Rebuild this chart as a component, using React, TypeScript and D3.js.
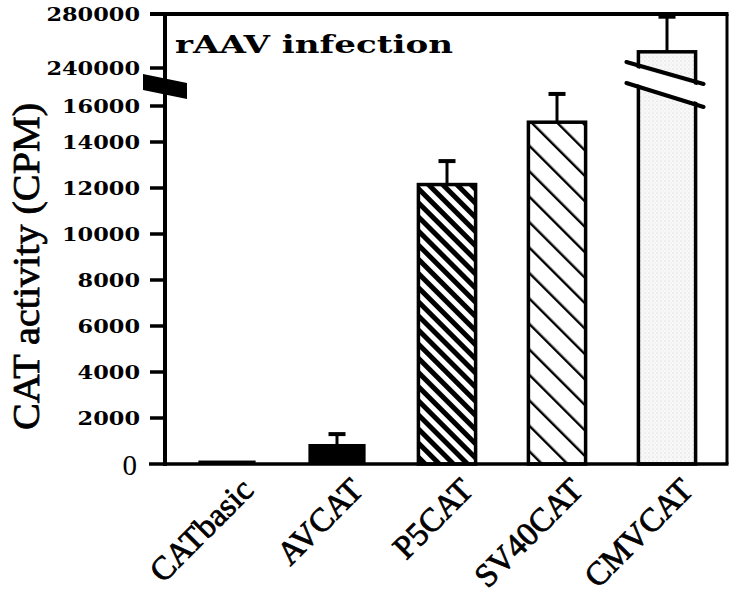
import * as d3 from "d3";

// values (CPM)
const categories = ["CATbasic", "AVCAT", "P5CAT", "SV40CAT", "CMVCAT"];
const values = [150, 870, 12150, 15100, 252000];
const errorTops = [null, 1300, 13170, 16670, 278000];
const lowerTicks = [2000, 4000, 6000, 8000, 10000, 12000, 14000, 16000];
const upperTicks = [240000, 280000];
const barFills = ["#000", "#000", "url(#p5)", "url(#sv40)", "url(#cmv)"];

const W = 742;
const H = 597;
const axisX = 165;
const rightX = 727;
const baseY = 464;
const topY = 14;

const App = () => {
  // broken axis: low segment (compressed above 14000) and high segment
  const yLow = d3
    .scaleLinear()
    .domain([0, 14000, 16000, 17000])
    .range([baseY, 142, 106, 88]);
  const yHigh = d3.scaleLinear().domain([240000, 280000]).range([68, topY]);
  const yOf = (v) => (v >= 200000 ? yHigh(v) : yLow(v));

  const x = d3
    .scaleBand()
    .domain(categories)
    .range([172, 722])
    .paddingInner(0.48)
    .paddingOuter(0.24);

  const m = (yHigh(240000) + yLow(16000)) / 2;
  const tickFont = {
    fontFamily: "'DejaVu Serif', serif",
    fontWeight: "bold",
    fontSize: 19,
  };
  const tickLabel = (t, y) => {
    const s = String(t);
    return (
      <text
        x={140}
        y={y + 6.5}
        textAnchor="end"
        textLength={s.length * 15.6}
        lengthAdjust="spacingAndGlyphs"
        style={tickFont}
      >
        {s}
      </text>
    );
  };

  const cmvX0 = x("CMVCAT");
  const cmvX1 = cmvX0 + x.bandwidth();

  return (
    <svg
      width={W}
      height={H}
      style={{ position: "absolute", left: 0, top: 0, background: "#fff" }}
    >
      <defs>
        <pattern
          id="p5"
          patternUnits="userSpaceOnUse"
          width={10}
          height={10}
          patternTransform="rotate(-45)"
        >
          <rect width={10} height={10} fill="#fff" />
          <rect width={5} height={10} fill="#000" />
        </pattern>
        <pattern
          id="sv40"
          patternUnits="userSpaceOnUse"
          width={18}
          height={18}
          patternTransform="rotate(-45)"
        >
          <rect width={18} height={18} fill="#fff" />
          <rect width={2.4} height={18} fill="#000" />
        </pattern>
        <pattern id="cmv" patternUnits="userSpaceOnUse" width={4} height={4}>
          <rect width={4} height={4} fill="#f8f8f8" />
          <circle cx={1} cy={1} r={0.5} fill="#c4c4c4" />
          <circle cx={3} cy={3} r={0.4} fill="#dedede" />
        </pattern>
      </defs>

      {/* bars */}
      {categories.map((c, i) => (
        <rect
          key={c}
          x={x(c)}
          y={yOf(values[i])}
          width={x.bandwidth()}
          height={baseY - yOf(values[i])}
          fill={barFills[i]}
          stroke="#000"
          strokeWidth={i > 1 ? 3.5 : 0}
        />
      ))}

      {/* error bars */}
      {categories.map((c, i) => {
        if (errorTops[i] == null) return null;
        const cx = x(c) + x.bandwidth() / 2;
        return (
          <g key={"e" + c} stroke="#000">
            <line
              x1={cx}
              x2={cx}
              y1={yOf(values[i])}
              y2={yOf(errorTops[i])}
              strokeWidth={3}
            />
            <line
              x1={cx - 8.5}
              x2={cx + 8.5}
              y1={yOf(errorTops[i])}
              y2={yOf(errorTops[i])}
              strokeWidth={4}
            />
          </g>
        );
      })}

      {/* break on the CMVCAT bar */}
      <polygon
        points={`${cmvX0 - 12},${m - 22} ${cmvX1 + 8},${m} ${cmvX1 + 8},${m + 17} ${cmvX0 - 12},${m - 6}`}
        fill="#fff"
      />
      <g stroke="#000" strokeWidth={4} strokeLinecap="round">
        <line x1={cmvX0 - 12} y1={m - 25} x2={cmvX1 + 8} y2={m - 3} />
        <line x1={cmvX0 - 12} y1={m - 4} x2={cmvX1 + 8} y2={m + 20} />
      </g>

      {/* frame */}
      <line x1={150} x2={rightX + 1.5} y1={topY} y2={topY} stroke="#000" strokeWidth={4} />
      <line x1={rightX} x2={rightX} y1={topY} y2={baseY} stroke="#000" strokeWidth={3} />
      <line x1={axisX} x2={axisX} y1={topY} y2={baseY + 2} stroke="#000" strokeWidth={4} />
      <line x1={149} x2={rightX + 1.5} y1={baseY} y2={baseY} stroke="#000" strokeWidth={3.5} />

      {/* y ticks */}
      {lowerTicks.map((t) => (
        <g key={t}>
          <line x1={150} x2={axisX} y1={yLow(t)} y2={yLow(t)} stroke="#000" strokeWidth={3.5} />
          {tickLabel(t, yLow(t))}
        </g>
      ))}
      {upperTicks.map((t) => (
        <g key={t}>
          <line x1={150} x2={axisX} y1={yHigh(t)} y2={yHigh(t)} stroke="#000" strokeWidth={3.5} />
          {tickLabel(t, yHigh(t))}
        </g>
      ))}
      <text
        x={137}
        y={baseY + 11}
        textAnchor="end"
        style={{ fontFamily: "'Liberation Serif', serif", fontSize: 29 }}
      >
        0
      </text>

      {/* axis break mark */}
      <polygon
        points={`${axisX - 22},${m - 13} ${axisX + 22},${m - 4} ${axisX + 22},${m + 12} ${axisX - 22},${m + 3}`}
        fill="#000"
      />

      {/* y title */}
      <text
        transform={`translate(39,${(103 + 430) / 2}) rotate(-90)`}
        textAnchor="middle"
        textLength={327}
        lengthAdjust="spacingAndGlyphs"
        stroke="#000"
        strokeWidth={0.8}
        style={{
          fontFamily: "'Liberation Serif', serif",
          fontSize: 38,
        }}
      >
        CAT activity (CPM)
      </text>

      {/* panel title */}
      <text
        x={175}
        y={53}
        textLength={278}
        lengthAdjust="spacingAndGlyphs"
        style={{ fontFamily: "'DejaVu Serif', serif", fontWeight: "bold", fontSize: 25 }}
      >
        rAAV infection
      </text>

      {/* category labels */}
      {categories.map((c) => (
        <text
          key={"l" + c}
          transform={`translate(${x(c) + x.bandwidth() / 2 + 28},492) rotate(-45)`}
          textAnchor="end"
          stroke="#000"
          strokeWidth={0.8}
          style={{ fontFamily: "'Liberation Serif', serif", fontSize: 33 }}
        >
          {c}
        </text>
      ))}
    </svg>
  );
};

export default App;
